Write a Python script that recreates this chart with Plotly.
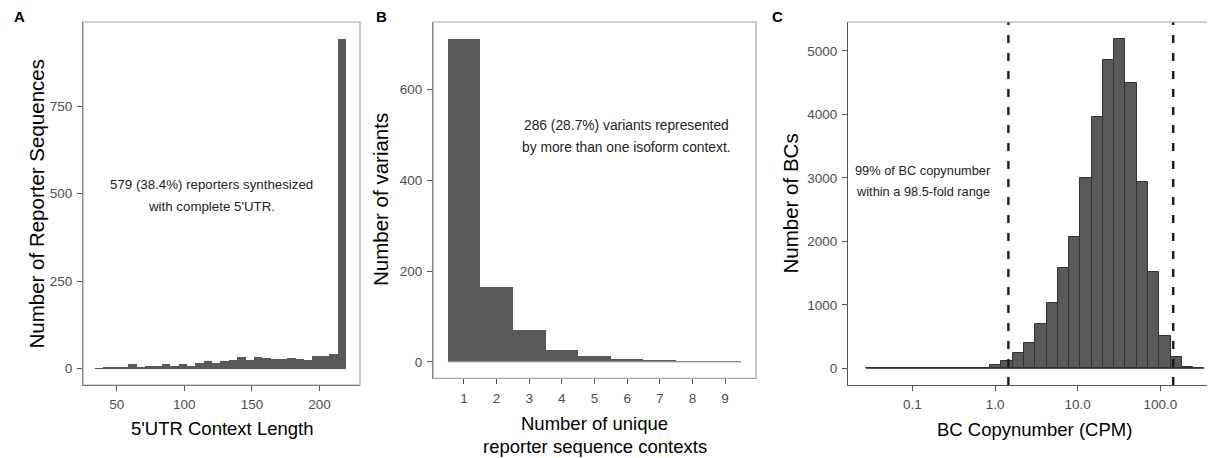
import numpy as np
import plotly.graph_objects as go

W, H = 1215, 458
OFF = 8  # page body margin in the browser; layout positions below are page pixels

# ---------------- data ----------------
# Panel A: histogram of 5'UTR context length
utr_bin_start = 33.9
utr_bin_width = 6.19
utr_counts = [1, 2, 5, 5, 12, 5, 7, 7, 12, 7, 12, 7, 17, 21, 17, 21, 24, 33, 24, 33,
              30, 26, 26, 30, 28, 24, 36, 36, 43, 943]
utr_xticks = [50, 100, 150, 200]
utr_yticks = [0, 250, 500, 750]

# Panel B: number of unique reporter sequence contexts per variant
contexts = [1, 2, 3, 4, 5, 6, 7, 8, 9]
variant_counts = [711, 164, 70, 26, 13, 7, 4, 1, 1]
var_yticks = [0, 200, 400, 600]

# Panel C: BC copynumber histogram (log10 bins)
bc_log_start = -1.56
bc_log_width = 0.1364
bc_counts = [1, 0, 0, 0, 0, 0, 0, 0, 0, 0,
             10, 58, 115, 247, 404, 703, 1034, 1575, 2063, 3002,
             3963, 4856, 5187, 4489, 2930, 1512, 514, 183, 20, 3]
bc_limits = [1.45, 142.8]
bc_xtick_vals = [0.1, 1.0, 10.0, 100.0]
bc_xtick_text = ["0.1", "1.0", "10.0", "100.0"]
bc_yticks = [0, 1000, 2000, 3000, 4000, 5000]

# ---------------- styling ----------------
FONT = "Arial, Liberation Sans, sans-serif"
BAR = "#595959"
EDGE = "#333333"
AXC = "#555555"
FRAME = "#a6a6a6"
TICKFONT = dict(family=FONT, size=13.5, color="#4d4d4d")


def dom_x(a, b):
    return [(a - OFF) / W, min(1.0, (b - OFF) / W)]


def dom_y(top, bottom):
    return [1 - (bottom - OFF) / H, 1 - (top - OFF) / H]


fig = go.Figure()

# Panel A bars
utr_edges = utr_bin_start + utr_bin_width * np.arange(len(utr_counts) + 1)
utr_centers = (utr_edges[:-1] + utr_edges[1:]) / 2
fig.add_trace(go.Bar(x=utr_centers, y=utr_counts, width=[utr_bin_width] * len(utr_counts),
                     marker=dict(color=BAR, line=dict(width=0)), xaxis="x", yaxis="y",
                     showlegend=False))
fig.add_trace(go.Scatter(x=[utr_edges[0], utr_edges[-1]], y=[0, 0], mode="lines",
                         line=dict(color=BAR, width=1), xaxis="x", yaxis="y", showlegend=False))

# Panel B bars
fig.add_trace(go.Bar(x=contexts, y=variant_counts, width=[1.0] * len(contexts),
                     marker=dict(color=BAR, line=dict(width=0)), xaxis="x2", yaxis="y2",
                     showlegend=False))
fig.add_trace(go.Scatter(x=[contexts[0] - 0.5, contexts[-1] + 0.5], y=[0, 0], mode="lines",
                         line=dict(color="#b0b0b0", width=1), xaxis="x2", yaxis="y2",
                         showlegend=False))

# Panel C bars (x in log10 units)
bc_edges = bc_log_start + bc_log_width * np.arange(len(bc_counts) + 1)
bc_centers = (bc_edges[:-1] + bc_edges[1:]) / 2
fig.add_trace(go.Scatter(x=[bc_edges[0], bc_edges[-1]], y=[0, 0], mode="lines",
                         line=dict(color=EDGE, width=1), xaxis="x3", yaxis="y3",
                         showlegend=False))
fig.add_trace(go.Bar(x=bc_centers, y=bc_counts, width=[bc_log_width] * len(bc_counts),
                     marker=dict(color=BAR, line=dict(color=EDGE, width=1)),
                     xaxis="x3", yaxis="y3", showlegend=False))
c_yrange = [-263, 5453]
for lim in bc_limits:
    lx = float(np.log10(lim))
    fig.add_trace(go.Scatter(x=[lx, lx], y=c_yrange, mode="lines",
                             line=dict(color="#1a1a1a", width=2.4, dash="8px,10px"),
                             xaxis="x3", yaxis="y3", showlegend=False))

axis_common = dict(showgrid=False, zeroline=False, showline=True, linecolor=AXC, linewidth=1.2,
                   ticks="outside", ticklen=5, tickwidth=1.2, tickcolor=AXC, tickfont=TICKFONT,
                   ticklabelstandoff=2)

fig.update_layout(
    width=W, height=H, margin=dict(l=0, r=0, t=0, b=0),
    paper_bgcolor="white", plot_bgcolor="white", bargap=0, barmode="overlay",
    font=dict(family=FONT),
    xaxis=dict(domain=dom_x(83, 360), range=[25, 230], tickvals=utr_xticks, anchor="y",
               **axis_common),
    yaxis=dict(domain=dom_y(22, 385), range=[-47, 991], tickvals=utr_yticks, anchor="x",
               **axis_common),
    xaxis2=dict(domain=dom_x(433, 756), range=[0.05, 9.95], tickvals=contexts, anchor="y2",
                **axis_common),
    yaxis2=dict(domain=dom_y(22, 378.3), range=[-36, 748], tickvals=var_yticks, anchor="x2",
                **axis_common),
    xaxis3=dict(domain=dom_x(848, 1215), range=[-1.778, 2.66],
                tickvals=[float(np.log10(v)) for v in bc_xtick_vals], ticktext=bc_xtick_text,
                anchor="y3", **axis_common),
    yaxis3=dict(domain=dom_y(22, 385), range=c_yrange, tickvals=bc_yticks, anchor="x3",
                **axis_common),
)

# frames
for xr, yr in [("x", "y"), ("x2", "y2")]:
    fig.add_shape(type="rect", xref=f"{xr} domain", yref=f"{yr} domain", x0=0, x1=1, y0=0, y1=1,
                  line=dict(color=FRAME, width=1.2), layer="above")
fig.add_shape(type="line", xref="x3 domain", yref="y3 domain", x0=0, x1=1, y0=1, y1=1,
              line=dict(color=FRAME, width=1.2), layer="above")


def ann(xp, yp, text, size, bold=False, angle=0, color="#000000"):
    if bold:
        text = f"<b>{text}</b>"
    fig.add_annotation(xref="paper", yref="paper", x=(xp - OFF) / W, y=1 - (yp - OFF) / H,
                       text=text, showarrow=False, xanchor="center", yanchor="middle",
                       textangle=angle, font=dict(family=FONT, size=size, color=color))


# panel letters
ann(19, 16, "A", 15, bold=True)
ann(382, 16, "B", 15, bold=True)
ann(777, 16, "C", 15, bold=True)

# axis titles
ann(221.5, 428, "5'UTR Context Length", 18.5)
ann(35.5, 204, "Number of Reporter Sequences", 20.5, angle=-90)
ann(594.5, 423.3, "Number of unique", 18.5)
ann(594.5, 446.7, "reporter sequence contexts", 18.5)
ann(380, 200, "Number of variants", 20.5, angle=-90)
ann(1034, 429.3, "BC Copynumber (CPM)", 18.5)
ann(790, 203.5, "Number of BCs", 20.5, angle=-90)

# in-panel notes
ann(211.5, 185, "579 (38.4%) reporters synthesized", 13.3, color="#222222")
ann(211.5, 206.7, "with complete 5'UTR.", 13.3, color="#222222")
ann(626.5, 125.7, "286 (28.7%) variants represented", 13.8, color="#222222")
ann(626.5, 147.7, "by more than one isoform context.", 13.8, color="#222222")
ann(922.8, 170, "99% of BC copynumber", 12.8, color="#222222")
ann(922.8, 191.7, "within a 98.5-fold range", 12.8, color="#222222")

fig.write_html("out.html")
